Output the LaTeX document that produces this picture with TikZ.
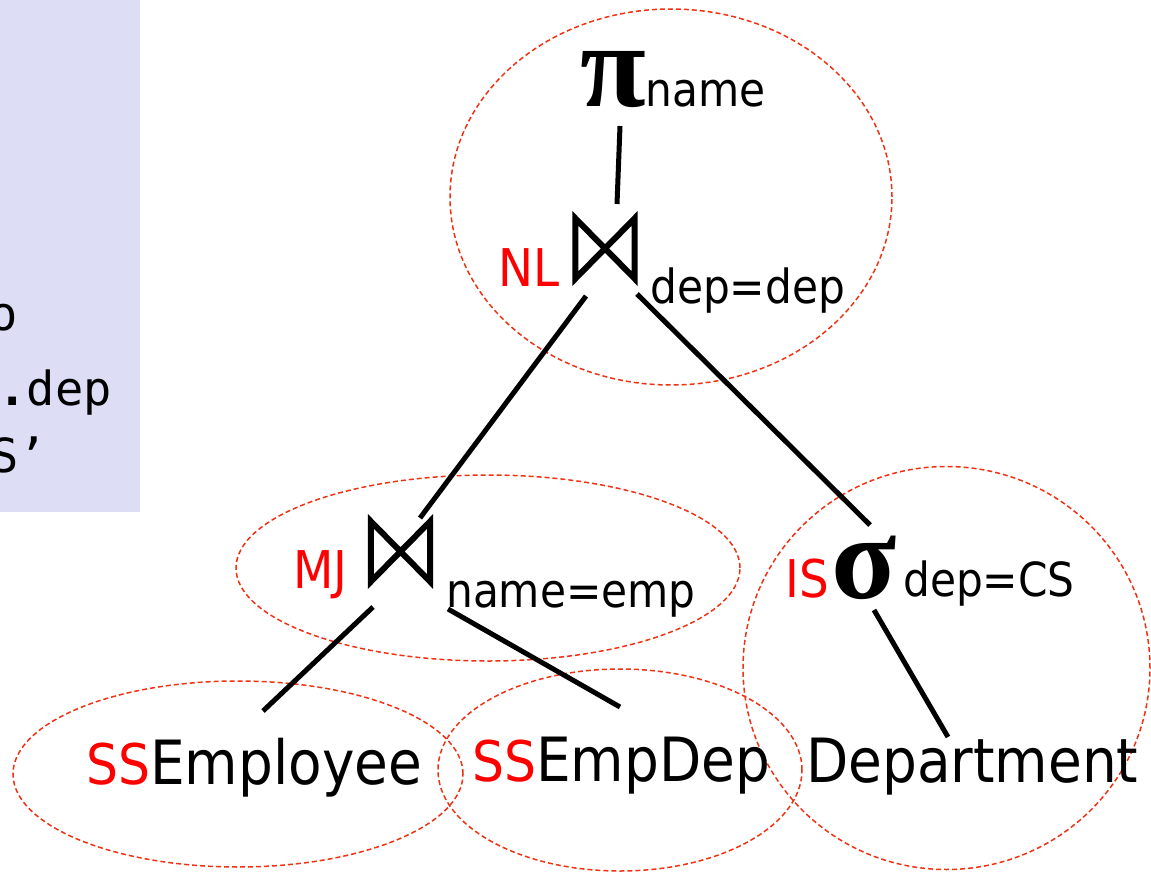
\documentclass[tikz,border=0pt]{standalone}
\usepackage{fontspec}
\setmainfont{DejaVu Sans}[FakeStretch=0.9]
\newfontfamily\monofont{DejaVu Sans Mono}
\newfontfamily\greekfont{Liberation Serif}
\usetikzlibrary{shapes.geometric}
\definecolor{panelblue}{RGB}{221,221,245}
\definecolor{grpred}{RGB}{240,50,20}
\newcommand\redlab[1]{\textcolor{red}{\fontsize{56}{56}\selectfont #1}}
\newcommand\bigsym[1]{{\greekfont\bfseries\fontsize{120}{120}\selectfont #1}}
\newcommand\subtxt[1]{{\fontsize{47}{47}\selectfont #1}}
\begin{document}
\begin{tikzpicture}[x=1pt,y=-1pt,
  lbl/.style={anchor=base west, inner sep=0pt, font=\fontsize{61}{61}\selectfont},
  sublbl/.style={anchor=base west, inner sep=0pt, font=\fontsize{47}{47}\selectfont},
  redlbl/.style={anchor=base west, inner sep=0pt, text=red, font=\fontsize{52}{52}\selectfont},
  sql/.style={anchor=base east, inner sep=0pt, font=\monofont\fontsize{47}{47}\selectfont},
  grp/.style={ellipse, draw=grpred, line width=1.5pt, dash pattern=on 5pt off 3pt, inner sep=0pt},
  bowtie/.style={minimum width=59pt, minimum height=60pt, inner sep=0pt},
  btline/.style={line width=6pt, line join=miter},
  edge/.style={line width=5pt}]
\useasboundingbox (0,0) rectangle (1151,872);
% left panel
\fill[panelblue] (0,0) rectangle (140,512);
\begin{scope}
  \clip (0,0) rectangle (140,512);
  \node[sql] (sql1) at (18,330) {o};
  \node[sql] (sql2) at (112,405) {{\bfseries .}dep};
  \node[sql] (sql3) at (47,472) {S’};
\end{scope}
% group ellipses
\node[grp, minimum width=442pt, minimum height=376pt] (gtop) at (671,197) {};
\node[grp, minimum width=504pt, minimum height=186pt] (gmj) at (488,568) {};
\node[grp, minimum width=450pt, minimum height=186pt] (gemp) at (238,774) {};
\node[grp, minimum width=364pt, minimum height=202pt] (gempdep) at (620,770) {};
\node[grp, minimum width=407pt, minimum height=403pt] (gdept) at (946.5,668) {};
% operators
\node[lbl] (proj) at (580,107) {\bigsym{π}\subtxt{name}};
\node[bowtie] (jnl) at (605,248.5) {};
\draw[btline] (jnl.north west) -- (jnl.south west) -- (jnl.north east) -- (jnl.south east) -- cycle;
\node[redlbl] (nl) at (498,286) {NL};
\node[sublbl] (nlcond) at (650,303) {dep=dep};
\node[bowtie] (jmj) at (400.5,551.5) {};
\draw[btline] (jmj.north west) -- (jmj.south west) -- (jmj.north east) -- (jmj.south east) -- cycle;
\node[redlbl] (mj) at (293,588) {MJ};
\node[sublbl] (mjcond) at (446,607) {name=emp};
\node[redlbl] (is) at (785,597) {IS};
\node[lbl] (sel) at (831,598) {\bigsym{σ}};
\node[sublbl] (selcond) at (903,596) {dep=CS};
% leaves
\node[lbl] (emp) at (86,784) {\redlab{SS}Employee};
\node[lbl] (empdep) at (472,781) {\redlab{SS}EmpDep};
\node[lbl] (dept) at (806,782) {Department};
% connector ends
\coordinate (proj-s) at (620,126);
\coordinate (jnl-n) at (617,204);
\coordinate (jnl-sw) at (586,296);
\coordinate (jmj-n) at (420,518);
\coordinate (jnl-se) at (637,294);
\coordinate (sel-n) at (870,525);
\coordinate (jmj-sw) at (373,607);
\coordinate (emp-n) at (263,711);
\coordinate (jmj-se) at (448,609);
\coordinate (empdep-n) at (620,707);
\coordinate (sel-s) at (874,610);
\coordinate (dept-n) at (948,737);
\draw[edge] (proj-s) -- (jnl-n);
\draw[edge] (jnl-sw) -- (jmj-n);
\draw[edge] (jnl-se) -- (sel-n);
\draw[edge] (jmj-sw) -- (emp-n);
\draw[edge] (jmj-se) -- (empdep-n);
\draw[edge] (sel-s) -- (dept-n);
\end{tikzpicture}
\end{document}
